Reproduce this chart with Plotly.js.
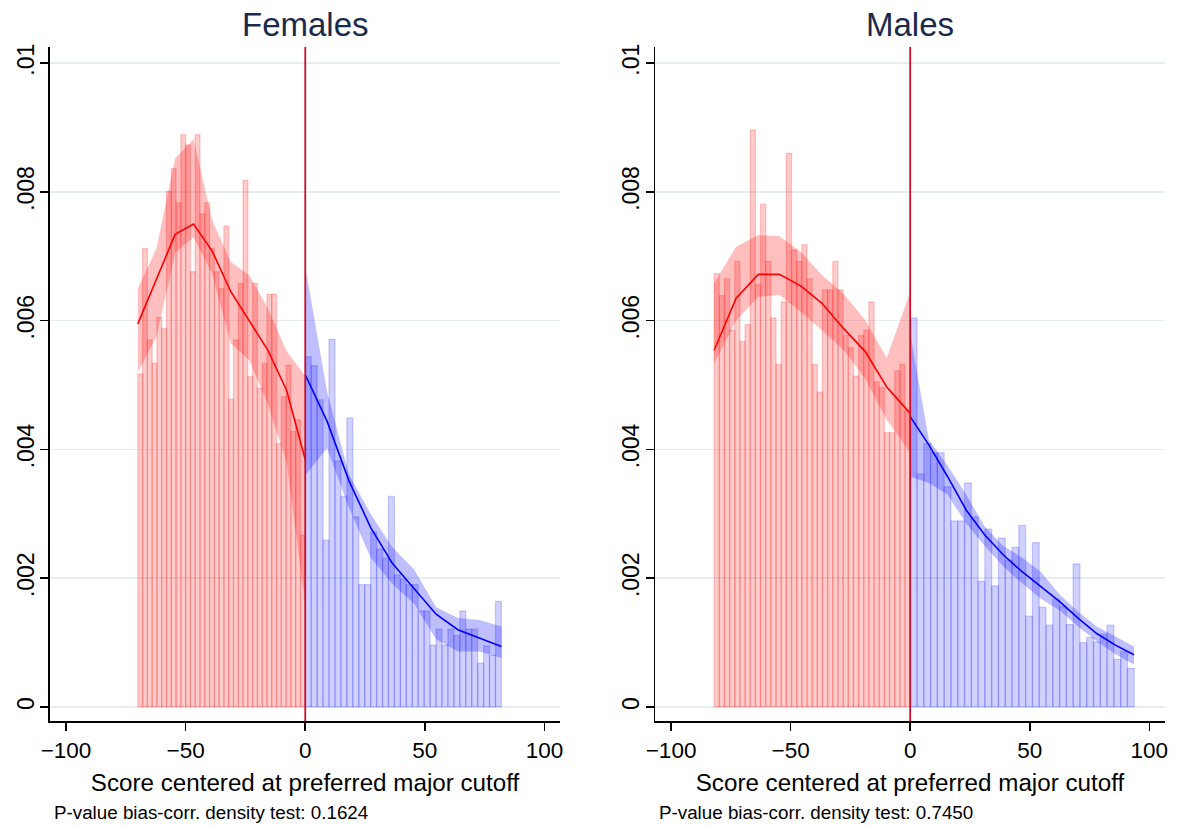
<!DOCTYPE html>
<html>
<head>
<meta charset="utf-8">
<script src="https://cdn.plot.ly/plotly-3.0.1.min.js"></script>
<style>html,body{margin:0;padding:0;background:#fff}#chart{width:1179px;height:826px}</style>
</head>
<body>
<div id="chart"></div>
<script>
// ---------- Data (density) ----------
// Females, left of cutoff: histogram [-70, 0)
const femLeftRange = [-70, 0];
const femLeftHist = [0.00517,0.00712,0.00570,0.00534,0.00605,0.00588,0.00801,0.00836,0.00783,0.00889,
  0.00873,0.00676,0.00889,0.00766,0.00783,0.00712,0.00676,0.00650,0.00747,0.00478,
  0.00570,0.00658,0.00818,0.00513,0.00658,0.00495,0.00534,0.00641,0.00641,0.00409,
  0.00482,0.00531,0.00428,0.00446,0.00267];
// Females, right of cutoff: histogram [0, 82)
const femRightRange = [0, 82];
const femRightHist = [0.00544,0.00530,0.00477,0.00259,0.00571,0.00382,0.00327,0.00449,0.00295,0.00190,
  0.00190,0.00272,0.00245,0.00231,0.00327,0.00205,0.00198,0.00190,0.00190,0.00149,
  0.00149,0.00096,0.00121,0.00096,0.00121,0.00111,0.00149,0.00121,0.00121,0.00068,
  0.00095,0.00080,0.00164];
// Females density estimates and confidence bands
const femLeftX  = [-70,-62.2,-54.4,-46.7,-38.9,-31.1,-23.3,-15.6,-7.8,0];
const femLeftFit = [0.00595,0.00665,0.00734,0.00750,0.00708,0.00645,0.00600,0.00554,0.00492,0.00384];
const femLeftHi  = [0.00650,0.00712,0.00852,0.00882,0.00756,0.00691,0.00670,0.00619,0.00553,0.00514];
const femLeftLo  = [0.00520,0.00575,0.00705,0.00730,0.00673,0.00565,0.00538,0.00470,0.00380,0.00160];
const femRightX  = [0,9.1,18.2,27.3,36.4,45.6,54.7,63.8,72.9,82];
const femRightFit = [0.00516,0.00444,0.00352,0.00279,0.00223,0.00183,0.00144,0.00120,0.00107,0.00094];
const femRightHi  = [0.00684,0.00490,0.00362,0.00300,0.00248,0.00213,0.00155,0.00138,0.00135,0.00125];
const femRightLo  = [0.00360,0.00402,0.00310,0.00232,0.00191,0.00160,0.00105,0.00086,0.00086,0.00076];

// Males, left of cutoff: histogram [-82, 0)
const maleLeftRange = [-82, 0];
const maleLeftHist = [0.00673,0.00639,0.00665,0.00585,0.00692,0.00568,0.00594,0.00896,0.00656,0.00781,
  0.00692,0.00604,0.00532,0.00629,0.00860,0.00710,0.00692,0.00718,0.00665,0.00532,
  0.00489,0.00648,0.00648,0.00692,0.00648,0.00577,0.00558,0.00514,0.00577,0.00585,
  0.00629,0.00505,0.00496,0.00426,0.00426,0.00522,0.00532,0.00460];
// Males, right of cutoff: histogram [0, 93.7)
const maleRightRange = [0, 93.7];
const maleRightHist = [0.00604,0.00362,0.00409,0.00395,0.00395,0.00342,0.00289,0.00289,0.00348,0.00295,
  0.00195,0.00276,0.00188,0.00262,0.00228,0.00248,0.00282,0.00141,0.00255,0.00155,
  0.00127,0.00167,0.00156,0.00128,0.00222,0.00100,0.00108,0.00101,0.00113,0.00127,
  0.00074,0.00086,0.00060];
const maleLeftX  = [-82,-72.8,-63.5,-54.7,-45.8,-36.9,-27.9,-18.8,-9.8,0];
const maleLeftFit = [0.00554,0.00635,0.00672,0.00672,0.00654,0.00627,0.00588,0.00552,0.00497,0.00456];
const maleLeftHi  = [0.00658,0.00715,0.00733,0.00731,0.00707,0.00671,0.00642,0.00601,0.00542,0.00645];
const maleLeftLo  = [0.00534,0.00600,0.00637,0.00640,0.00614,0.00585,0.00555,0.00510,0.00446,0.00395];
const maleRightX  = [0,7.8,15.6,23.4,31.2,39,46.8,54.6,62.4,70.2,78,85.8,93.6];
const maleRightFit = [0.00451,0.00407,0.00358,0.00306,0.00267,0.00236,0.00210,0.00187,0.00164,0.00138,0.00114,0.00096,0.00081];
const maleRightHi  = [0.00580,0.00415,0.00375,0.00330,0.00280,0.00250,0.00232,0.00210,0.00175,0.00148,0.00125,0.00110,0.00094];
const maleRightLo  = [0.00358,0.00348,0.00330,0.00285,0.00250,0.00218,0.00192,0.00168,0.00150,0.00125,0.00102,0.00082,0.00066];

const panelTitles = ["Females", "Males"];
const pvalueNotes = ["P-value bias-corr. density test: 0.1624", "P-value bias-corr. density test: 0.7450"];
const xTickVals = [-100, -50, 0, 50, 100];
const yTickVals = [0, 0.002, 0.004, 0.006, 0.008, 0.01];
const yTickText = ["0", ".002", ".004", ".006", ".008", ".01"];
const xTitle = "Score centered at preferred major cutoff";

// ---------- Helpers ----------
function histTrace(range, vals, fill, edge, xa, ya) {
  const w = (range[1] - range[0]) / vals.length;
  const xs = vals.map((_, i) => range[0] + (i + 0.5) * w);
  return {type: 'bar', x: xs, y: vals, width: w, xaxis: xa, yaxis: ya,
    marker: {color: fill, line: {color: edge, width: 1.3}}, hoverinfo: 'skip', showlegend: false};
}
function bandTrace(xs, hi, lo, color, xa, ya) {
  return {type: 'scatter', mode: 'lines', x: xs.concat(xs.slice().reverse()),
    y: hi.concat(lo.slice().reverse()), fill: 'toself', fillcolor: color,
    line: {width: 0}, xaxis: xa, yaxis: ya, hoverinfo: 'skip', showlegend: false};
}
function lineTrace(xs, ys, color, xa, ya) {
  return {type: 'scatter', mode: 'lines', x: xs, y: ys, line: {color: color, width: 1.6},
    xaxis: xa, yaxis: ya, hoverinfo: 'skip', showlegend: false};
}

const RED_F = 'rgba(255,0,0,0.2)', RED_E = 'rgba(255,0,0,0.2)';
const BLU_F = 'rgba(0,0,255,0.18)', BLU_E = 'rgba(0,0,255,0.18)';
const RED_B = 'rgba(255,0,0,0.25)', BLU_B = 'rgba(0,0,255,0.25)';

const traces = [
  histTrace(femLeftRange, femLeftHist, RED_F, RED_E, 'x', 'y'),
  histTrace(femRightRange, femRightHist, BLU_F, BLU_E, 'x', 'y'),
  bandTrace(femLeftX, femLeftHi, femLeftLo, RED_B, 'x', 'y'),
  bandTrace(femRightX, femRightHi, femRightLo, BLU_B, 'x', 'y'),
  lineTrace(femLeftX, femLeftFit, '#ff0000', 'x', 'y'),
  lineTrace(femRightX, femRightFit, '#0000ff', 'x', 'y'),
  histTrace(maleLeftRange, maleLeftHist, RED_F, RED_E, 'x2', 'y2'),
  histTrace(maleRightRange, maleRightHist, BLU_F, BLU_E, 'x2', 'y2'),
  bandTrace(maleLeftX, maleLeftHi, maleLeftLo, RED_B, 'x2', 'y2'),
  bandTrace(maleRightX, maleRightHi, maleRightLo, BLU_B, 'x2', 'y2'),
  lineTrace(maleLeftX, maleLeftFit, '#ff0000', 'x2', 'y2'),
  lineTrace(maleRightX, maleRightFit, '#0000ff', 'x2', 'y2')
];

const FONT = 'Liberation Sans, Arial, sans-serif';
function xAxis(domain, anchor) {
  return {domain: domain, anchor: anchor, range: [-106.7, 106.5], tickvals: xTickVals,
    ticks: 'outside', ticklen: 8, tickwidth: 1.5, tickcolor: '#000',
    showline: true, linecolor: '#000', linewidth: 1.5, showgrid: false, zeroline: false,
    tickfont: {family: FONT, size: 22.5, color: '#000'},
    title: {text: xTitle, font: {family: FONT, size: 24.2, color: '#000'}, standoff: 12}};
}
function yAxis(domain, anchor) {
  return {domain: domain, anchor: anchor, range: [-0.00022, 0.01025], tickvals: yTickVals, ticktext: yTickText,
    tickangle: -90, ticks: 'outside', ticklen: 8, tickwidth: 1.5, tickcolor: '#000', ticklabelstandoff: -3,
    showline: true, linecolor: '#000', linewidth: 1.5, showgrid: true, gridcolor: '#e6eef1', gridwidth: 1.5,
    zeroline: false, tickfont: {family: FONT, size: 23, color: '#000'}};
}
const yDom = [0.127, 0.943];
const layout = {
  width: 1179, height: 826, margin: {l: 0, r: 0, t: 0, b: 0},
  paper_bgcolor: '#fff', plot_bgcolor: '#fff', barmode: 'overlay', bargap: 0,
  font: {family: FONT},
  xaxis: xAxis([0.0424, 0.475], 'y'),
  yaxis: yAxis(yDom, 'x'),
  xaxis2: xAxis([0.5556, 0.988], 'y2'),
  yaxis2: yAxis(yDom, 'x2'),
  shapes: [
    {type: 'line', xref: 'x', yref: 'y domain', x0: 0, x1: 0, y0: 0, y1: 1, line: {color: '#c8102e', width: 1.8}, layer: 'above'},
    {type: 'line', xref: 'x2', yref: 'y2 domain', x0: 0, x1: 0, y0: 0, y1: 1, line: {color: '#c8102e', width: 1.8}, layer: 'above'}
  ],
  annotations: [
    {text: panelTitles[0], xref: 'paper', yref: 'paper', x: 0.2587, y: 0.970, xanchor: 'center', yanchor: 'middle', showarrow: false,
      font: {family: FONT, size: 33, color: '#1a2a4c'}},
    {text: panelTitles[1], xref: 'paper', yref: 'paper', x: 0.7718, y: 0.970, xanchor: 'center', yanchor: 'middle', showarrow: false,
      font: {family: FONT, size: 33, color: '#1a2a4c'}},
    {text: pvalueNotes[0], xref: 'paper', yref: 'paper', x: 52/1179, y: 1 - 812/826, xanchor: 'left', yanchor: 'middle', showarrow: false,
      font: {family: FONT, size: 18.8, color: '#000'}},
    {text: pvalueNotes[1], xref: 'paper', yref: 'paper', x: 657/1179, y: 1 - 812/826, xanchor: 'left', yanchor: 'middle', showarrow: false,
      font: {family: FONT, size: 18.8, color: '#000'}}
  ]
};
Plotly.newPlot('chart', traces, layout, {staticPlot: true, displayModeBar: false});
</script>
</body>
</html>
